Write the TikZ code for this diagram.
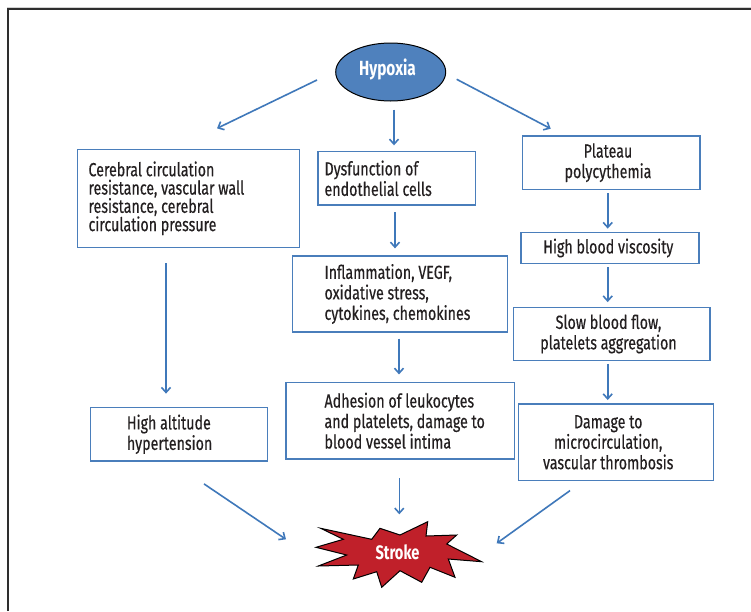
\documentclass[tikz,border=0pt]{standalone}
\usepackage{fontspec}
\setmainfont[FakeStretch=0.75,UprightFeatures={FakeBold=0.4}]{Fira Sans}
\usetikzlibrary{arrows.meta,shapes.geometric}
\definecolor{boxblue}{HTML}{4A7EBB}
\definecolor{arrblue}{HTML}{3F78BA}
\definecolor{txtc}{HTML}{231F20}
\definecolor{hypfill}{HTML}{4F81BD}
\definecolor{strokered}{HTML}{C0202A}
\definecolor{framegray}{HTML}{2E2E2E}
\begin{document}
\begin{tikzpicture}[x=1pt,y=-1pt,
  box/.style={draw=boxblue, line width=1.3pt, inner sep=0pt, rectangle},
  lbl/.style={inner sep=0pt, text=txtc, font=\fontsize{19}{20.5}\selectfont},
  arr/.style={draw=arrblue, line width=1.6pt, -{Straight Barb[length=5pt,width=9pt]}},
]
\fill[white] (0,0) rectangle (751,611);
\useasboundingbox (0,0) rectangle (751,611);
% frame
\draw[gray!35, line width=0.8pt] (7,7.3) -- (751,7.3);
\draw[framegray, line width=2pt] (8,611) -- (8,9) -- (751,9);

% Hypoxia
\node[ellipse, draw=black, fill=hypfill, line width=1pt, minimum width=110pt, minimum height=58pt, inner sep=0pt] (hyp) at (390.7,72) {};
\node[inner sep=0pt, text=white, font=\bfseries\fontsize{20.5}{22}\selectfont] (thyp) at (387.5,69.5) {Hypoxia};

% boxes
\node[box, minimum width=222pt, minimum height=98pt] (a) at (188.3,198.3) {};
\node[box, minimum width=157.5pt, minimum height=53.3pt] (b) at (396.8,178.3) {};
\node[box, minimum width=177.3pt, minimum height=53.3pt] (c) at (611.3,162.7) {};
\node[box, minimum width=178pt, minimum height=30.7pt] (d) at (610,248) {};
\node[box, minimum width=215pt, minimum height=76pt] (e) at (400.2,294) {};
\node[box, minimum width=196.7pt, minimum height=53.3pt] (f) at (611.7,334) {};
\node[box, minimum width=177.3pt, minimum height=53.3pt] (g) at (179,434.3) {};
\node[box, minimum width=228.3pt, minimum height=76.7pt] (h) at (400.2,420.7) {};
\node[box, minimum width=195pt, minimum height=76.7pt] (i) at (615.8,442.3) {};

% texts
\node[lbl, anchor=west, align=left, font=\fontsize{19}{18.3}\selectfont] (ta) at (88.3,198.3)
  {Cerebral circulation\\resistance, vascular wall\\resistance, cerebral\\circulation pressure};
\node[lbl, anchor=west, align=left] (tb) at (324.3,178.3) {Dysfunction of\\endothelial cells};
\node[lbl, align=center] (tc) at (608,162.7) {Plateau\\polycythemia};
\node[lbl, align=center] (td) at (608.3,248) {High blood viscosity};
\node[lbl, anchor=west, align=left] (te) at (324.3,294) {Inflammation, VEGF,\\oxidative stress,\\cytokines, chemokines};
\node[lbl, align=center] (tf) at (608.5,334) {Slow blood flow,\\platelets aggregation};
\node[lbl, anchor=west, align=left] (tg) at (126.7,434.3) {High altitude\\hypertension};
\node[lbl, anchor=west, align=left] (th) at (324.3,420.7) {Adhesion of leukocytes\\and platelets, damage to\\blood vessel intima};
\node[lbl, align=center] (ti) at (608.2,442.3) {Damage to\\microcirculation,\\vascular thrombosis};

% Stroke starburst
\draw[fill=strokered, draw=black, line width=1pt, line join=miter]
  (316,547.3) -- (343.3,539.3) -- (320.7,528.3) -- (371.7,539.3) -- (380,528.3) -- (400,535)
  -- (427.7,521.7) -- (426,536) -- (456.7,535) -- (446.7,544) -- (481.7,561.7) -- (448.3,559)
  -- (455,577.3) -- (430,567.3) -- (421.7,582.3) -- (400,570.7) -- (381.7,587.3) -- (376.7,571.7)
  -- (353.3,579) -- (358.3,565) -- (318.3,566) -- (346.7,555) -- cycle;
\node[inner sep=0pt, text=white, font=\bfseries\fontsize{19.5}{21}\selectfont] (s) at (397.5,552.5) {Stroke};

% connectors
\draw[arr] ([xshift=-73.7pt,yshift=-8pt]hyp.center) -- ([xshift=28.7pt,yshift=20.3pt]a.north);
\draw[arr] ([xshift=3.3pt,yshift=-8pt]hyp.south) -- ([xshift=-2.8pt,yshift=5.7pt]b.north);
\draw[arr] ([xshift=66pt,yshift=-7.3pt]hyp.center) -- ([xshift=-60.6pt,yshift=6.7pt]c.north);
\draw[arr] ([xshift=-22.3pt,yshift=-15.4pt]a.south) -- ([xshift=-13pt,yshift=13.4pt]g.north);
\draw[arr] ([xshift=-1.8pt,yshift=-6.7pt]b.south) -- ([xshift=-5.2pt,yshift=7pt]e.north);
\draw[arr] ([xshift=-1.2pt,yshift=-6pt]e.south) -- ([xshift=-1.2pt,yshift=7.3pt]h.north);
\draw[arr] ([xshift=-0.9pt,yshift=-18.3pt]h.south) -- ([xshift=1.8pt,yshift=38.2pt]s.center);
\draw[arr] ([xshift=-3.6pt,yshift=-3.4pt]c.south) -- ([xshift=-2.3pt,yshift=3.4pt]d.north);
\draw[arr] ([xshift=-2.3pt,yshift=-3.4pt]d.south) -- ([xshift=-4pt,yshift=4.6pt]f.north);
\draw[arr] ([xshift=-4pt,yshift=-2.6pt]f.south) -- ([xshift=-8.1pt,yshift=3.3pt]i.north);
\draw[arr] ([xshift=25pt,yshift=-22.3pt]g.south) -- ([xshift=-111.5pt,yshift=13.2pt]s.center);
\draw[arr] ([xshift=-45.8pt,yshift=-9.3pt]i.south) -- ([xshift=99.2pt,yshift=9.2pt]s.center);
\end{tikzpicture}
\end{document}
